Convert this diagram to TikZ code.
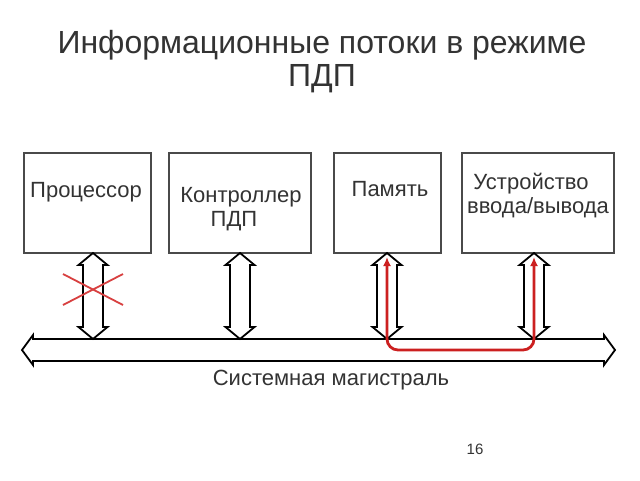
\documentclass[tikz,border=0pt]{standalone}
\usepackage{fontspec}
\setmainfont{Liberation Sans}
\usetikzlibrary{arrows.meta}
\definecolor{txt}{HTML}{333333}
\definecolor{ln}{HTML}{4A4A4A}
\definecolor{redl}{HTML}{CC2020}
\definecolor{redx}{HTML}{D84040}
\tikzset{
  box/.style={draw=ln, line width=1.5pt, inner sep=0pt, anchor=north west},
  lbl/.style={text=txt, font=\fontsize{22}{26}\selectfont, inner sep=0pt},
  blk/.style={draw=black, line width=1.8pt, fill=white, line join=miter},
}
\newcommand{\vdarrow}[3]{% x, ytop, ybottom
  \draw[blk] (#1,#2) -- (#1+14.5,#2+12) -- (#1+10,#2+12) -- (#1+10,#3-12) -- (#1+14.5,#3-12)
    -- (#1,#3) -- (#1-14.5,#3-12) -- (#1-10,#3-12) -- (#1-10,#2+12) -- (#1-14.5,#2+12) -- cycle;}
\begin{document}
\begin{tikzpicture}[x=1pt,y=-1pt]
\useasboundingbox[fill=white] (0,0) rectangle (640,480);
% title
\node[text=txt, font=\fontsize{32}{33}\selectfont, align=center] (title) at (322,62) {Информационные потоки в режиме\\ПДП};
% boxes
\node[box, minimum width=127pt, minimum height=100pt] (cpu) at (23,152) {};
\node[box, minimum width=142pt, minimum height=100pt] (dma) at (168,152) {};
\node[box, minimum width=107pt, minimum height=100pt] (mem) at (333,152) {};
\node[box, minimum width=152pt, minimum height=100pt] (io) at (461,152) {};
\node[lbl] (cpul) at (86,192) {Процессор};
\node[lbl] (dmal1) at (241,197) {Контроллер};
\node[lbl] (dmal2) at (234,221) {ПДП};
\node[lbl] (meml) at (390,189) {Память};
\node[lbl] (iol1) at (531,184) {Устройство};
\node[lbl] (iol2) at (538,208) {ввода/вывода};
% bus
\draw[blk] (22,350) -- (33,335) -- (33,339) -- (604,339) -- (604,335) -- (615,350)
  -- (604,365) -- (604,361) -- (33,361) -- (33,365) -- cycle;
\node[lbl] (busl) at (331,380) {Системная магистраль};
% vertical double arrows
\vdarrow{93}{253}{339}
\vdarrow{240}{253}{339}
\vdarrow{387}{253}{339}
\vdarrow{534}{253}{339}
% red cross
\draw[redx, line width=1.8pt] (63,274) -- (123,305) (63,305) -- (123,274);
% red flow
\draw[redl, line width=2.8pt, rounded corners=11pt, {Latex[length=9pt,width=8pt]}-{Latex[length=9pt,width=8pt]}]
  (387,257) -- (387,350) -- (534,350) -- (534,257);
% page number
\node[text=txt, font=\fontsize{15}{16}\selectfont] (pg) at (475,449) {16};
\end{tikzpicture}
\end{document}
